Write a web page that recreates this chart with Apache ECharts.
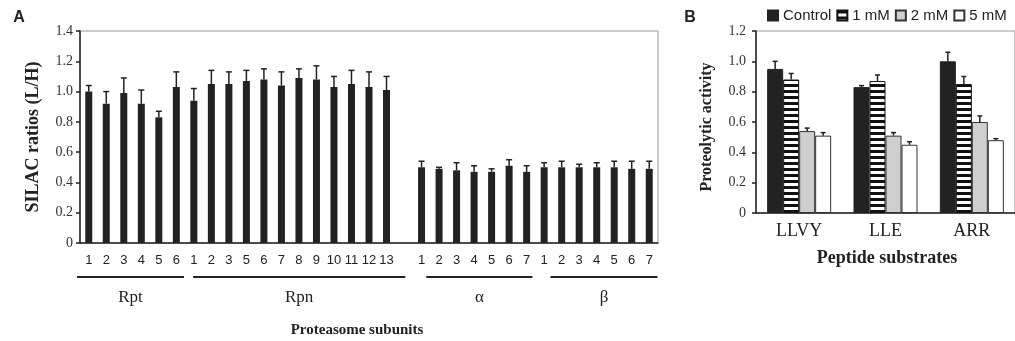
<!DOCTYPE html>
<html>
<head>
<meta charset="utf-8">
<script src="https://cdn.jsdelivr.net/npm/echarts@6.0.0/dist/echarts.min.js"></script>
<style>
  html, body { margin: 0; padding: 0; background: #fff; }
  #chart { width: 1015px; height: 341px; }
</style>
</head>
<body>
<div id="chart"></div>
<script>
// ---- panel A: SILAC ratios per proteasome subunit ----
const rptLabels = ['1', '2', '3', '4', '5', '6']
const rptValues = [1.00, 0.92, 0.99, 0.92, 0.83, 1.03]
const rptErrors = [0.04, 0.08, 0.10, 0.09, 0.04, 0.10]

const rpnLabels = ['1', '2', '3', '5', '6', '7', '8', '9', '10', '11', '12', '13']
const rpnValues = [0.94, 1.05, 1.05, 1.07, 1.08, 1.04, 1.09, 1.08, 1.03, 1.05, 1.03, 1.01]
const rpnErrors = [0.08, 0.09, 0.08, 0.07, 0.07, 0.09, 0.06, 0.09, 0.07, 0.09, 0.10, 0.09]

const alphaLabels = ['1', '2', '3', '4', '5', '6', '7']
const alphaValues = [0.50, 0.49, 0.48, 0.47, 0.47, 0.51, 0.47]
const alphaErrors = [0.04, 0.01, 0.05, 0.04, 0.02, 0.04, 0.04]

const betaLabels = ['1', '2', '3', '4', '5', '6', '7']
const betaValues = [0.50, 0.50, 0.50, 0.50, 0.50, 0.49, 0.49]
const betaErrors = [0.03, 0.04, 0.02, 0.03, 0.04, 0.05, 0.05]

const yTicksA = { min: 0, max: 1.4, interval: 0.2 }

// ---- panel B: proteolytic activity ----
const substrates = ['LLVY', 'LLE', 'ARR']
const doses = ['Control', '1 mM', '2 mM', '5 mM']
const controlValues = [0.95, 0.83, 1.00]
const controlErrors = [0.05, 0.01, 0.06]
const mM1Values = [0.88, 0.87, 0.85]
const mM1Errors = [0.04, 0.04, 0.05]
const mM2Values = [0.54, 0.51, 0.60]
const mM2Errors = [0.02, 0.02, 0.04]
const mM5Values = [0.51, 0.45, 0.48]
const mM5Errors = [0.02, 0.02, 0.01]

const yTicksB = { min: 0, max: 1.2, interval: 0.2 }

// build flat arrays for panel A (one empty slot between Rpn and alpha)
const groupsA = [
  { name: 'Rpt', labels: rptLabels, values: rptValues, errors: rptErrors },
  { name: 'Rpn', labels: rpnLabels, values: rpnValues, errors: rpnErrors, spacerAfter: true },
  { name: 'α', labels: alphaLabels, values: alphaValues, errors: alphaErrors },
  { name: 'β', labels: betaLabels, values: betaValues, errors: betaErrors }
]
// bracket ends, in category widths relative to first/last bar centre
const bracketPad = [[-0.67, 0.44], [-0.04, 1.07], [0.27, 0.33], [0.36, 0.47]]

const catsA = []
const labelsA = []
const barsA = []
const errA = []
groupsA.forEach((g) => {
  g.from = catsA.length
  g.labels.forEach((l, k) => {
    const idx = catsA.length
    catsA.push(g.name + l)
    labelsA.push(l)
    barsA.push(g.values[k])
    errA.push([idx, g.values[k], g.errors[k]])
  })
  g.to = catsA.length - 1
  if (g.spacerAfter) {
    catsA.push('gap')
    labelsA.push('')
    barsA.push('-')
  }
})

const SERIF = 'Liberation Serif'
const SANS = 'Liberation Sans'
const INK = '#222'

const stripe = document.createElement('canvas')
stripe.width = 6
stripe.height = 6
const sctx = stripe.getContext('2d')
sctx.fillStyle = '#fff'
sctx.fillRect(0, 0, 6, 6)
sctx.fillStyle = '#111'
sctx.fillRect(0, 0, 6, 3)

function errorBar(capW, offset) {
  return function (params, api) {
    const i = api.value(0)
    const v = api.value(1)
    const e = api.value(2)
    const p0 = api.coord([i, v])
    const p1 = api.coord([i, v + e])
    const x = p0[0] + offset
    const style = { stroke: INK, lineWidth: 1.5 }
    return {
      type: 'group',
      children: [
        { type: 'line', shape: { x1: x, y1: p0[1], x2: x, y2: p1[1] }, style },
        { type: 'line', shape: { x1: x - capW / 2, y1: p1[1], x2: x + capW / 2, y2: p1[1] }, style }
      ]
    }
  }
}

const tickFmt = (v) => (v === 0 ? '0' : v.toFixed(1))

const doseData = [
  { values: controlValues, errors: controlErrors, style: { color: '#222', borderColor: '#222', borderWidth: 1 } },
  { values: mM1Values, errors: mM1Errors, style: { color: { image: stripe, repeat: 'repeat' }, borderColor: '#111', borderWidth: 1 } },
  { values: mM2Values, errors: mM2Errors, style: { color: '#cfcfcf', borderColor: '#333', borderWidth: 1 } },
  { values: mM5Values, errors: mM5Errors, style: { color: '#fff', borderColor: '#333', borderWidth: 1 } }
]
const barWB = 16

const seriesB = []
doseData.forEach((d, k) => {
  seriesB.push({
    name: doses[k],
    type: 'bar',
    xAxisIndex: 1,
    yAxisIndex: 1,
    barWidth: barWB,
    barGap: '0%',
    itemStyle: d.style,
    data: d.values
  })
})
doseData.forEach((d, k) => {
  seriesB.push({
    name: 'err-' + doses[k],
    type: 'custom',
    xAxisIndex: 1,
    yAxisIndex: 1,
    z: 5,
    renderItem: errorBar(5, (k - 1.5) * barWB),
    encode: { x: 0, y: 1 },
    data: d.values.map((v, i) => [i, v, d.errors[i]])
  })
})

const chart = echarts.init(document.getElementById('chart'))

chart.setOption({
  animation: false,
  backgroundColor: '#fff',
  textStyle: { fontFamily: SERIF },
  legend: {
    data: doses,
    left: 767,
    top: 8,
    width: 260,
    padding: 0,
    icon: 'rect',
    itemWidth: 10,
    itemHeight: 10,
    itemGap: 5,
    textStyle: { fontFamily: SANS, fontSize: 15, color: INK }
  },
  grid: [
    { left: 80, top: 31, width: 578, height: 212, show: true, borderColor: '#999', borderWidth: 1, containLabel: false },
    { left: 756, top: 31, width: 260, height: 182, show: true, borderColor: '#999', borderWidth: 1, containLabel: false }
  ],
  xAxis: [
    {
      type: 'category',
      gridIndex: 0,
      data: catsA,
      axisLine: { lineStyle: { color: INK, width: 1.5 } },
      axisTick: { length: 4, interval: 0, lineStyle: { color: INK, width: 1.5 } },
      axisLabel: {
        interval: 0,
        margin: 11,
        fontFamily: SANS,
        fontSize: 13,
        color: INK,
        formatter: (v, i) => labelsA[i]
      }
    },
    {
      type: 'category',
      gridIndex: 1,
      data: substrates,
      axisLine: { lineStyle: { color: INK, width: 1.5 } },
      axisTick: { length: 4, lineStyle: { color: INK, width: 1.5 } },
      axisLabel: { margin: 9, fontFamily: SERIF, fontSize: 18, color: INK }
    }
  ],
  yAxis: [
    {
      type: 'value',
      gridIndex: 0,
      min: yTicksA.min,
      max: yTicksA.max,
      interval: yTicksA.interval,
      splitLine: { show: false },
      axisLine: { show: true, lineStyle: { color: INK, width: 1.5 } },
      axisTick: { show: true, length: 4, lineStyle: { color: INK, width: 1.5 } },
      axisLabel: { margin: 7, fontFamily: SERIF, fontSize: 14, color: '#333', formatter: tickFmt }
    },
    {
      type: 'value',
      gridIndex: 1,
      min: yTicksB.min,
      max: yTicksB.max,
      interval: yTicksB.interval,
      splitLine: { show: false },
      axisLine: { show: true, lineStyle: { color: INK, width: 1.5 } },
      axisTick: { show: true, length: 4, lineStyle: { color: INK, width: 1.5 } },
      axisLabel: { margin: 10, fontFamily: SERIF, fontSize: 14, color: '#333', formatter: tickFmt }
    }
  ],
  series: [
    {
      name: 'SILAC',
      type: 'bar',
      xAxisIndex: 0,
      yAxisIndex: 0,
      barWidth: 7,
      itemStyle: { color: '#222' },
      data: barsA
    },
    {
      name: 'SILAC-err',
      type: 'custom',
      xAxisIndex: 0,
      yAxisIndex: 0,
      z: 5,
      renderItem: errorBar(6, 0),
      encode: { x: 0, y: 1 },
      data: errA
    },
    ...seriesB
  ]
})

// labels, titles and group brackets
function txt(text, x, y, font, rotation) {
  return {
    type: 'text',
    x: x,
    y: y,
    rotation: rotation || 0,
    style: {
      text: text,
      font: font,
      fill: INK,
      textAlign: 'center',
      textVerticalAlign: 'middle',
      align: 'center',
      verticalAlign: 'middle'
    }
  }
}

const graphics = []
const band = chart.convertToPixel({ xAxisIndex: 0 }, 1) - chart.convertToPixel({ xAxisIndex: 0 }, 0)
groupsA.forEach((g, k) => {
  const x0 = chart.convertToPixel({ xAxisIndex: 0 }, g.from) + bracketPad[k][0] * band
  const x1 = chart.convertToPixel({ xAxisIndex: 0 }, g.to) + bracketPad[k][1] * band
  graphics.push({
    type: 'line',
    shape: { x1: x0, y1: 277, x2: x1, y2: 277 },
    style: { stroke: INK, lineWidth: 1.8 }
  })
  graphics.push(txt(g.name, (x0 + x1) / 2, 298, '17px ' + SERIF))
})
graphics.push(txt('Proteasome subunits', 357, 330, 'bold 15px ' + SERIF))
graphics.push(txt('SILAC ratios (L/H)', 33, 137, 'bold 18px ' + SERIF, Math.PI / 2))
graphics.push(txt('A', 19, 18, 'bold 16px ' + SANS))
graphics.push(txt('B', 690, 18, 'bold 16px ' + SANS))
graphics.push(txt('Proteolytic activity', 707, 127, 'bold 16px ' + SERIF, Math.PI / 2))
graphics.push(txt('Peptide substrates', 887, 258, 'bold 18px ' + SERIF))

chart.setOption({ graphic: graphics })
</script>
</body>
</html>
